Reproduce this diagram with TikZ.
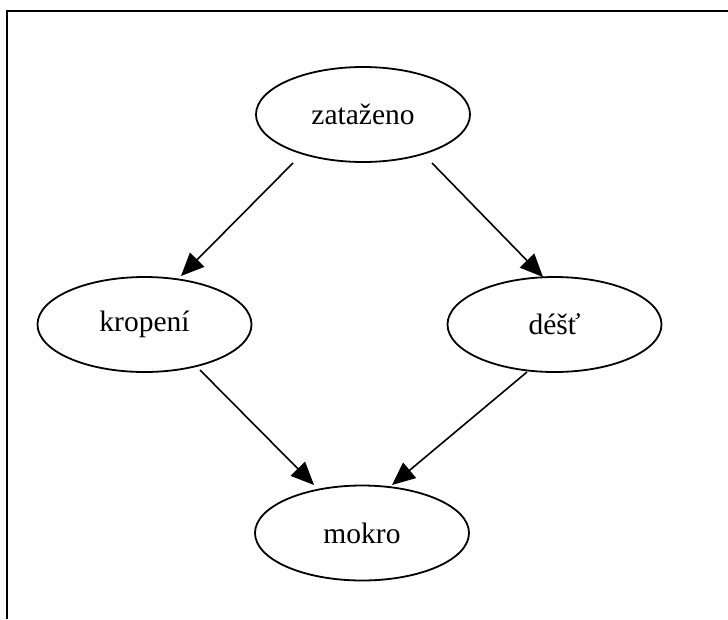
\documentclass[tikz,border=0pt]{standalone}
\usepackage{fontspec}
\setmainfont{Liberation Serif}
\usetikzlibrary{shapes.geometric,arrows.meta}
\begin{document}
\begin{tikzpicture}[x=1pt,y=-1pt,
  var/.style={draw,ellipse,line width=1.8pt,minimum width=214pt,minimum height=95pt,
    inner sep=0pt,font=\fontsize{29.5}{34}\selectfont},
  arr/.style={line width=1.6pt,-{Triangle[length=23pt,width=20pt]}},
  frame/.style={line width=2.4pt}]
  \useasboundingbox (0,0) rectangle (728,619);
  % open frame: top and left edges only
  \draw[frame] (7,619) -- (7,11) -- (728,11);
  % variables
  \node[var] (zat) at (363,114.5) {zataženo};
  \node[var] (krop) at (144.5,324.5) {kropení};
  \node[var] (dest) at (554.5,324.5) {déšť};
  \node[var] (mok) at (362,533) {mokro};
  % dependencies
  \draw[arr] ([shift={(-70,48.5)}]zat.center) -- ([shift={(36.5,-48.5)}]krop.center);
  \draw[arr] ([shift={(69,48.5)}]zat.center) -- ([shift={(-11.5,-47.5)}]dest.center);
  \draw[arr] ([shift={(55.5,45.5)}]krop.center) -- ([shift={(-48,-48)}]mok.center);
  \draw[arr] ([shift={(-27.5,47.5)}]dest.center) -- ([shift={(30,-48)}]mok.center);
\end{tikzpicture}
\end{document}
